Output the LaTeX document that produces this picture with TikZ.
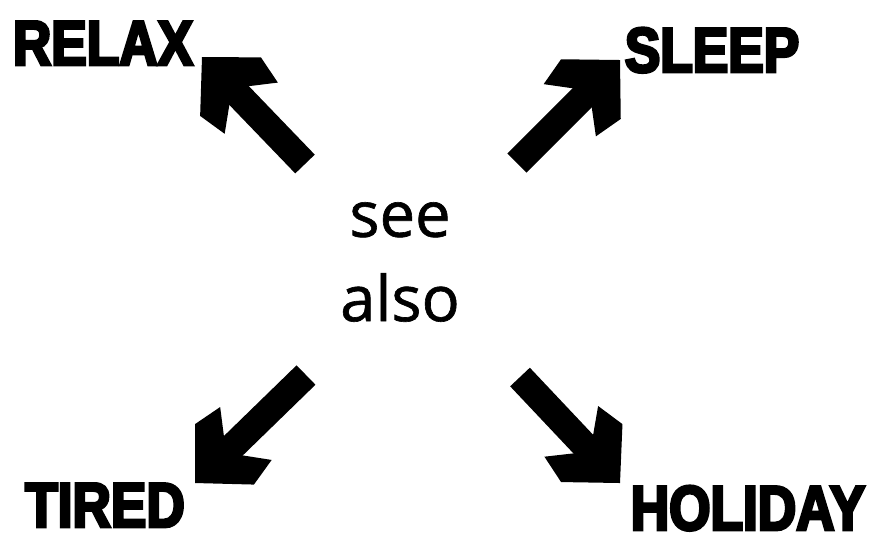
\documentclass[tikz,border=0pt]{standalone}
\usepackage{fontspec}
\setmainfont[FakeBold=1]{Open Sans}
\newfontfamily\labelfont[FakeBold=4.5,FakeStretch=0.84]{Liberation Sans Bold}
\usetikzlibrary{arrows.meta}
% heavy corner-shaped tip
\pgfdeclarearrow{
  name = Wing,
  setup code = {
    \pgfarrowssettipend{0pt}
    \pgfarrowssetlineend{-14pt}
    \pgfarrowssetbackend{-20.2pt}
    \pgfarrowshullpoint{0pt}{0pt}
    \pgfarrowshullpoint{-20.2pt}{12pt}
    \pgfarrowshullpoint{-20.2pt}{-12pt}
  },
  drawing code = {
    \pgfpathmoveto{\pgfpointorigin}
    \pgfpathlineto{\pgfpoint{-11.7pt}{12pt}}
    \pgfpathlineto{\pgfpoint{-20.2pt}{10.5pt}}
    \pgfpathlineto{\pgfpoint{-15.1pt}{3.7pt}}
    \pgfpathlineto{\pgfpoint{-15.1pt}{-3.7pt}}
    \pgfpathlineto{\pgfpoint{-20.2pt}{-10.5pt}}
    \pgfpathlineto{\pgfpoint{-11.7pt}{-12pt}}
    \pgfpathclose
    \pgfusepathqfill
  }
}

\begin{document}
\begin{tikzpicture}[x=0.01cm,y=-0.01cm,>=Wing]
  \tikzset{
    word/.style={font=\labelfont\fontsize{18}{18}\selectfont,anchor=base,inner sep=0pt},
    bigarrow/.style={->,line width=7.7pt}
  }
  \useasboundingbox (0,0) rectangle (876,541);
  \node[align=center,font=\fontsize{18}{24}\selectfont] (seealso) at (400,262) {see\\also};
  \node[word] (relax) at (103,65) {RELAX};
  \node[word] (sleep) at (712,72) {SLEEP};
  \node[word] (tired) at (105,527) {TIRED};
  \node[word] (holiday) at (748,530) {HOLIDAY};
  % arrow ends
  \coordinate (relaxtail) at (305,164);
  \coordinate (relaxtip) at (202,57);
  \coordinate (sleeptail) at (517,163);
  \coordinate (sleeptip) at (620,60);
  \coordinate (tiredtail) at (306,375);
  \coordinate (tiredtip) at (195,483);
  \coordinate (holidaytail) at (520,377);
  \coordinate (holidaytip) at (620,483);
  \draw[bigarrow] (relaxtail) -- (relaxtip);
  \draw[bigarrow] (sleeptail) -- (sleeptip);
  \draw[bigarrow] (tiredtail) -- (tiredtip);
  \draw[bigarrow] (holidaytail) -- (holidaytip);
\end{tikzpicture}
\end{document}
